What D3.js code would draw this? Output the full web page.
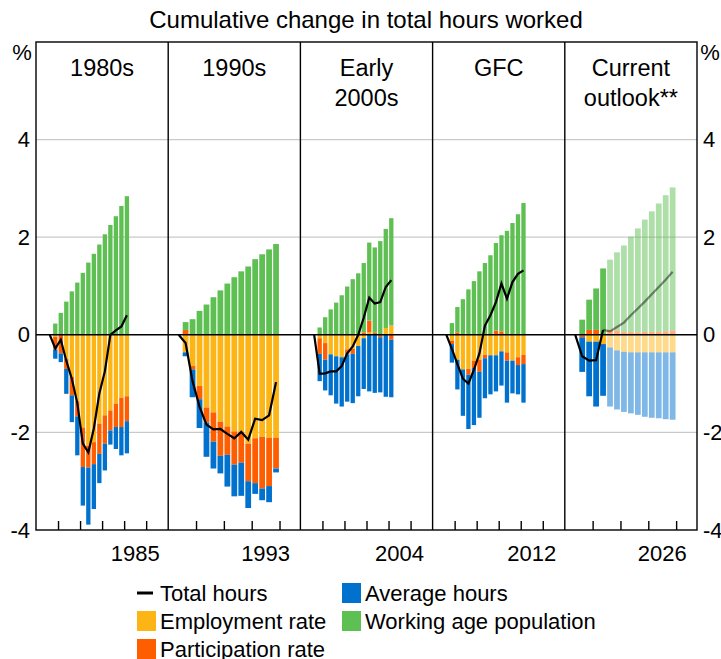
<!DOCTYPE html>
<html>
<head>
<meta charset="utf-8">
<script src="https://cdn.jsdelivr.net/npm/d3@7"></script>
<style>
  body { margin: 0; background: #fff; }
  text { font-family: "Liberation Sans", Arial, sans-serif; fill: #000; }
</style>
</head>
<body>
<svg id="chart" width="721" height="659"></svg>
<script>
// Paneles (episodios) y sus etiquetas
const panelTitles = [["1980s"], ["1990s"], ["Early", "2000s"], ["GFC"], ["Current", "outlook**"]];
const panelSlots = [24, 19, 24, 24, 19];     // trimestres en cada panel
const barStart = [3, 2, 3, 3, 2];            // primer trimestre con barra
const yearLabels = ["1985", "1993", "2004", "2012", "2026"];
const yearSlot = [16, 12, 16, 16, 12];       // primer trimestre del año etiquetado
const forecastFrom = 4;                      // en "Current outlook" las barras desde aquí son proyección

// Contribuciones (pp) por trimestre, una fila por panel
const employmentRate = [
  [-0.04, 0, -0.49, -0.86, -1.36, -1.90, -2.27, -2.20, -1.82, -1.65, -1.55, -1.41, -1.29, -1.26],
  [-0.36, -0.64, -1.05, -1.49, -1.59, -1.78, -1.88, -1.98, -2.00, -2.23, -2.12, -2.09, -2.11, -2.11],
  [-0.07, -0.17, -0.40, -0.44, -0.46, -0.30, -0.29, -0.23, -0.07, 0.05, 0, 0, 0.14, 0.19],
  [-0.12, -0.51, -0.71, -0.70, -0.53, -0.51, -0.41, -0.42, -0.42, -0.34, -0.36, -0.53, -0.46, -0.41],
  [-0.01, -0.14, -0.14, -0.19, -0.26, -0.32, -0.35, -0.36, -0.36, -0.36, -0.36, -0.36, -0.36, -0.36]
];
const participationRate = [
  [-0.26, -0.38, -0.21, -0.38, -0.31, -0.81, -0.45, -0.45, -0.62, -0.58, -0.41, -0.48, -0.60, -0.51],
  [0.10, -0.07, -0.27, -0.31, -0.60, -0.70, -0.58, -0.68, -0.62, -0.77, -0.92, -1.06, -0.99, -0.63],
  [-0.32, -0.34, 0, 0, 0, -0.10, -0.10, 0, 0.05, 0.24, 0.04, -0.05, 0, -0.10],
  [-0.07, 0.05, 0, -0.12, -0.15, -0.25, -0.07, 0, 0.09, 0.07, -0.17, 0, -0.16, -0.19],
  [-0.04, 0.10, 0.10, 0, 0.10, 0.09, 0.06, 0.06, 0.05, 0.06, 0.06, 0.06, 0.07, 0.09]
];
const averageHours = [
  [-0.19, -0.18, -0.51, -0.55, -0.80, -0.79, -1.17, -0.92, -0.60, -0.55, -0.29, -0.45, -0.58, -0.66],
  [-0.08, -0.57, -0.59, -0.70, -0.55, -0.36, -0.65, -0.65, -0.68, -0.55, -0.22, -0.24, -0.33, -0.08],
  [-0.56, -0.63, -0.84, -0.97, -1.01, -0.97, -1.01, -1.03, -1.04, -1.16, -1.19, -1.13, -1.27, -1.18],
  [-0.38, -0.61, -0.95, -1.11, -1.17, -0.94, -0.82, -0.80, -0.74, -0.70, -0.86, -0.67, -0.60, -0.79],
  [-0.71, -1.12, -1.33, -1.06, -1.21, -1.21, -1.23, -1.25, -1.28, -1.32, -1.34, -1.35, -1.37, -1.38]
];
const workingAgePop = [
  [0.23, 0.45, 0.68, 0.89, 1.07, 1.27, 1.48, 1.66, 1.85, 2.06, 2.25, 2.43, 2.64, 2.84],
  [0.16, 0.32, 0.49, 0.62, 0.77, 0.91, 1.05, 1.18, 1.30, 1.40, 1.55, 1.65, 1.75, 1.86],
  [0.15, 0.36, 0.52, 0.66, 0.81, 0.99, 1.14, 1.26, 1.42, 1.60, 1.75, 1.92, 2.03, 2.20],
  [0.24, 0.52, 0.73, 0.93, 1.10, 1.30, 1.47, 1.63, 1.79, 1.97, 2.13, 2.29, 2.47, 2.70],
  [0.31, 0.62, 0.85, 1.36, 1.44, 1.60, 1.77, 1.95, 2.13, 2.30, 2.47, 2.63, 2.79, 2.93]
];
// Horas totales: empieza un trimestre antes de la primera barra
const totalHours = [
  [0, -0.28, -0.10, -0.53, -0.90, -1.40, -2.23, -2.41, -1.92, -1.20, -0.75, 0.0, 0.09, 0.17, 0.40],
  [0, -0.17, -0.95, -1.47, -1.84, -1.94, -1.93, -2.03, -2.12, -1.99, -2.15, -1.72, -1.75, -1.65, -0.97],
  [0, -0.80, -0.79, -0.75, -0.75, -0.64, -0.38, -0.24, 0.0, 0.35, 0.76, 0.64, 0.67, 0.98, 1.12],
  [0, -0.29, -0.60, -0.90, -1.00, -0.72, -0.38, 0.19, 0.40, 0.67, 1.05, 0.74, 1.08, 1.25, 1.32],
  [0, -0.44, -0.53, -0.52, 0.10]
];
const totalHoursForecast = [0.10, 0.07, 0.16, 0.25, 0.40, 0.54, 0.68, 0.83, 0.98, 1.13, 1.29];

const yTicks = [-4, -2, 0, 2, 4];
const gridValues = [-2, 2, 4];

const keys = ["emp", "part", "avg", "wap"];
const colors = { emp: "#fdb515", part: "#ff5e00", avg: "#0072ce", wap: "#5ebf53" };

const svg = d3.select("#chart");
const plotLeft = 36, plotRight = 697, plotTop = 42, plotBottom = 530;

const y = d3.scaleLinear().domain([-4, 6]).range([plotBottom, plotTop]);
const panelX = d3.scaleBand().domain(d3.range(5)).range([plotLeft, plotRight]);

// Título
svg.append("text")
   .attr("x", 366)
   .attr("y", 28)
   .attr("text-anchor", "middle")
   .attr("font-size", "24px")
   .text("Cumulative change in total hours worked");

// Líneas de cuadrícula
svg.append("g").selectAll("line")
   .data(gridValues)
   .join("line")
   .attr("x1", plotLeft).attr("x2", plotRight)
   .attr("y1", d => y(d)).attr("y2", d => y(d))
   .attr("stroke", "#c9c9c9")
   .attr("stroke-width", 1.3);

// Ejes Y
const yLeft = svg.append("g")
   .attr("transform", `translate(${plotLeft},0)`)
   .call(d3.axisLeft(y).tickValues(yTicks).tickSize(0).tickPadding(6).tickFormat(d => String(d)));
const yRight = svg.append("g")
   .attr("transform", `translate(${plotRight},0)`)
   .call(d3.axisRight(y).tickValues(yTicks).tickSize(0).tickPadding(6).tickFormat(d => String(d)));
[yLeft, yRight].forEach(g => {
    g.select(".domain").remove();
    g.selectAll("text").attr("font-size", "22px").attr("font-family", null);
});
svg.append("text").attr("x", 22).attr("y", 60).attr("text-anchor", "middle").attr("font-size", "22px").text("%");
svg.append("text").attr("x", 710).attr("y", 60).attr("text-anchor", "middle").attr("font-size", "22px").text("%");

const stack = d3.stack().keys(keys).offset(d3.stackOffsetDiverging);

panelTitles.forEach((title, i) => {
    const x0 = panelX(i), w = panelX.bandwidth();
    const n = panelSlots[i];
    const pad = 1.2 / (w / n);
    const x = d3.scaleBand().domain(d3.range(n)).range([x0, x0 + w]).paddingInner(pad).paddingOuter(pad / 2);
    const xq = d3.scaleLinear().domain([0, n]).range([x0, x0 + w]);
    const g = svg.append("g");

    const rows = employmentRate[i].map((v, j) => ({
        slot: barStart[i] + j,
        emp: v,
        part: participationRate[i][j],
        avg: averageHours[i][j],
        wap: workingAgePop[i][j],
        forecast: i === 4 && j >= forecastFrom
    }));

    stack(rows).forEach(series => {
        g.append("g").selectAll("rect")
         .data(series)
         .join("rect")
         .attr("x", d => x(d.data.slot))
         .attr("width", x.bandwidth())
         .attr("y", d => y(Math.max(d[0], d[1])))
         .attr("height", d => Math.abs(y(d[0]) - y(d[1])))
         .attr("fill", colors[series.key])
         .attr("fill-opacity", d => d.data.forecast ? 0.5 : 1);
    });

    // Línea de cero
    g.append("line")
     .attr("x1", x0).attr("x2", x0 + w)
     .attr("y1", y(0)).attr("y2", y(0))
     .attr("stroke", "#000").attr("stroke-width", 1.4);

    const line = d3.line()
        .x(d => x(d.slot) + x.bandwidth() / 2)
        .y(d => y(d.v));

    g.append("path")
     .datum(totalHours[i].map((v, j) => ({ slot: barStart[i] - 1 + j, v })))
     .attr("fill", "none")
     .attr("stroke", "#000")
     .attr("stroke-width", 2.2)
     .attr("d", line);

    if (i === 4) {
        g.append("path")
         .datum(totalHoursForecast.map((v, j) => ({ slot: barStart[i] + forecastFrom - 1 + j, v })))
         .attr("fill", "none")
         .attr("stroke", "#000")
         .attr("stroke-opacity", 0.45)
         .attr("stroke-width", 2.2)
         .attr("d", line);
    }

    // Marcas del eje inferior (hacia dentro)
    const ticks = d3.range(4, n, 4);
    const xAxis = g.append("g")
        .attr("transform", `translate(0,${plotBottom})`)
        .call(d3.axisBottom(xq).tickValues(ticks).tickSize(-9).tickFormat(""));
    xAxis.select(".domain").remove();
    xAxis.selectAll("line").attr("stroke-width", 1.4);

    // Año
    g.append("text")
     .attr("x", xq(yearSlot[i] + 2))
     .attr("y", 561)
     .attr("text-anchor", "middle")
     .attr("font-size", "22px")
     .text(yearLabels[i]);

    // Título del panel
    title.forEach((t, k) => {
        g.append("text")
         .attr("x", x0 + w / 2)
         .attr("y", 76 + k * 30)
         .attr("text-anchor", "middle")
         .attr("font-size", "23.5px")
         .text(t);
    });

    if (i > 0) {
        g.append("line")
         .attr("x1", x0).attr("x2", x0)
         .attr("y1", plotTop).attr("y2", plotBottom)
         .attr("stroke", "#000").attr("stroke-width", 1.4);
    }
});

// Marco
svg.append("rect")
   .attr("x", plotLeft).attr("y", plotTop)
   .attr("width", plotRight - plotLeft).attr("height", plotBottom - plotTop)
   .attr("fill", "none").attr("stroke", "#000").attr("stroke-width", 1.4);

// Leyenda
const legendItems = [
    { label: "Total hours", key: "line", col: 0, row: 0 },
    { label: "Average hours", key: "avg", col: 1, row: 0 },
    { label: "Employment rate", key: "emp", col: 0, row: 1 },
    { label: "Working age population", key: "wap", col: 1, row: 1 },
    { label: "Participation rate", key: "part", col: 0, row: 2 }
];
const legendX = [137, 342], legendY = [593, 621, 649];
const legend = svg.append("g");
legendItems.forEach(item => {
    const lx = legendX[item.col], ly = legendY[item.row];
    if (item.key === "line") {
        legend.append("line")
              .attr("x1", lx).attr("x2", lx + 16)
              .attr("y1", ly).attr("y2", ly)
              .attr("stroke", "#000").attr("stroke-width", 3);
    } else {
        legend.append("rect")
              .attr("x", lx).attr("y", ly - 10)
              .attr("width", 19).attr("height", 20)
              .attr("fill", colors[item.key]);
    }
    legend.append("text")
          .attr("x", lx + 23)
          .attr("y", ly + 8)
          .attr("font-size", "22px")
          .text(item.label);
});
</script>
</body>
</html>
